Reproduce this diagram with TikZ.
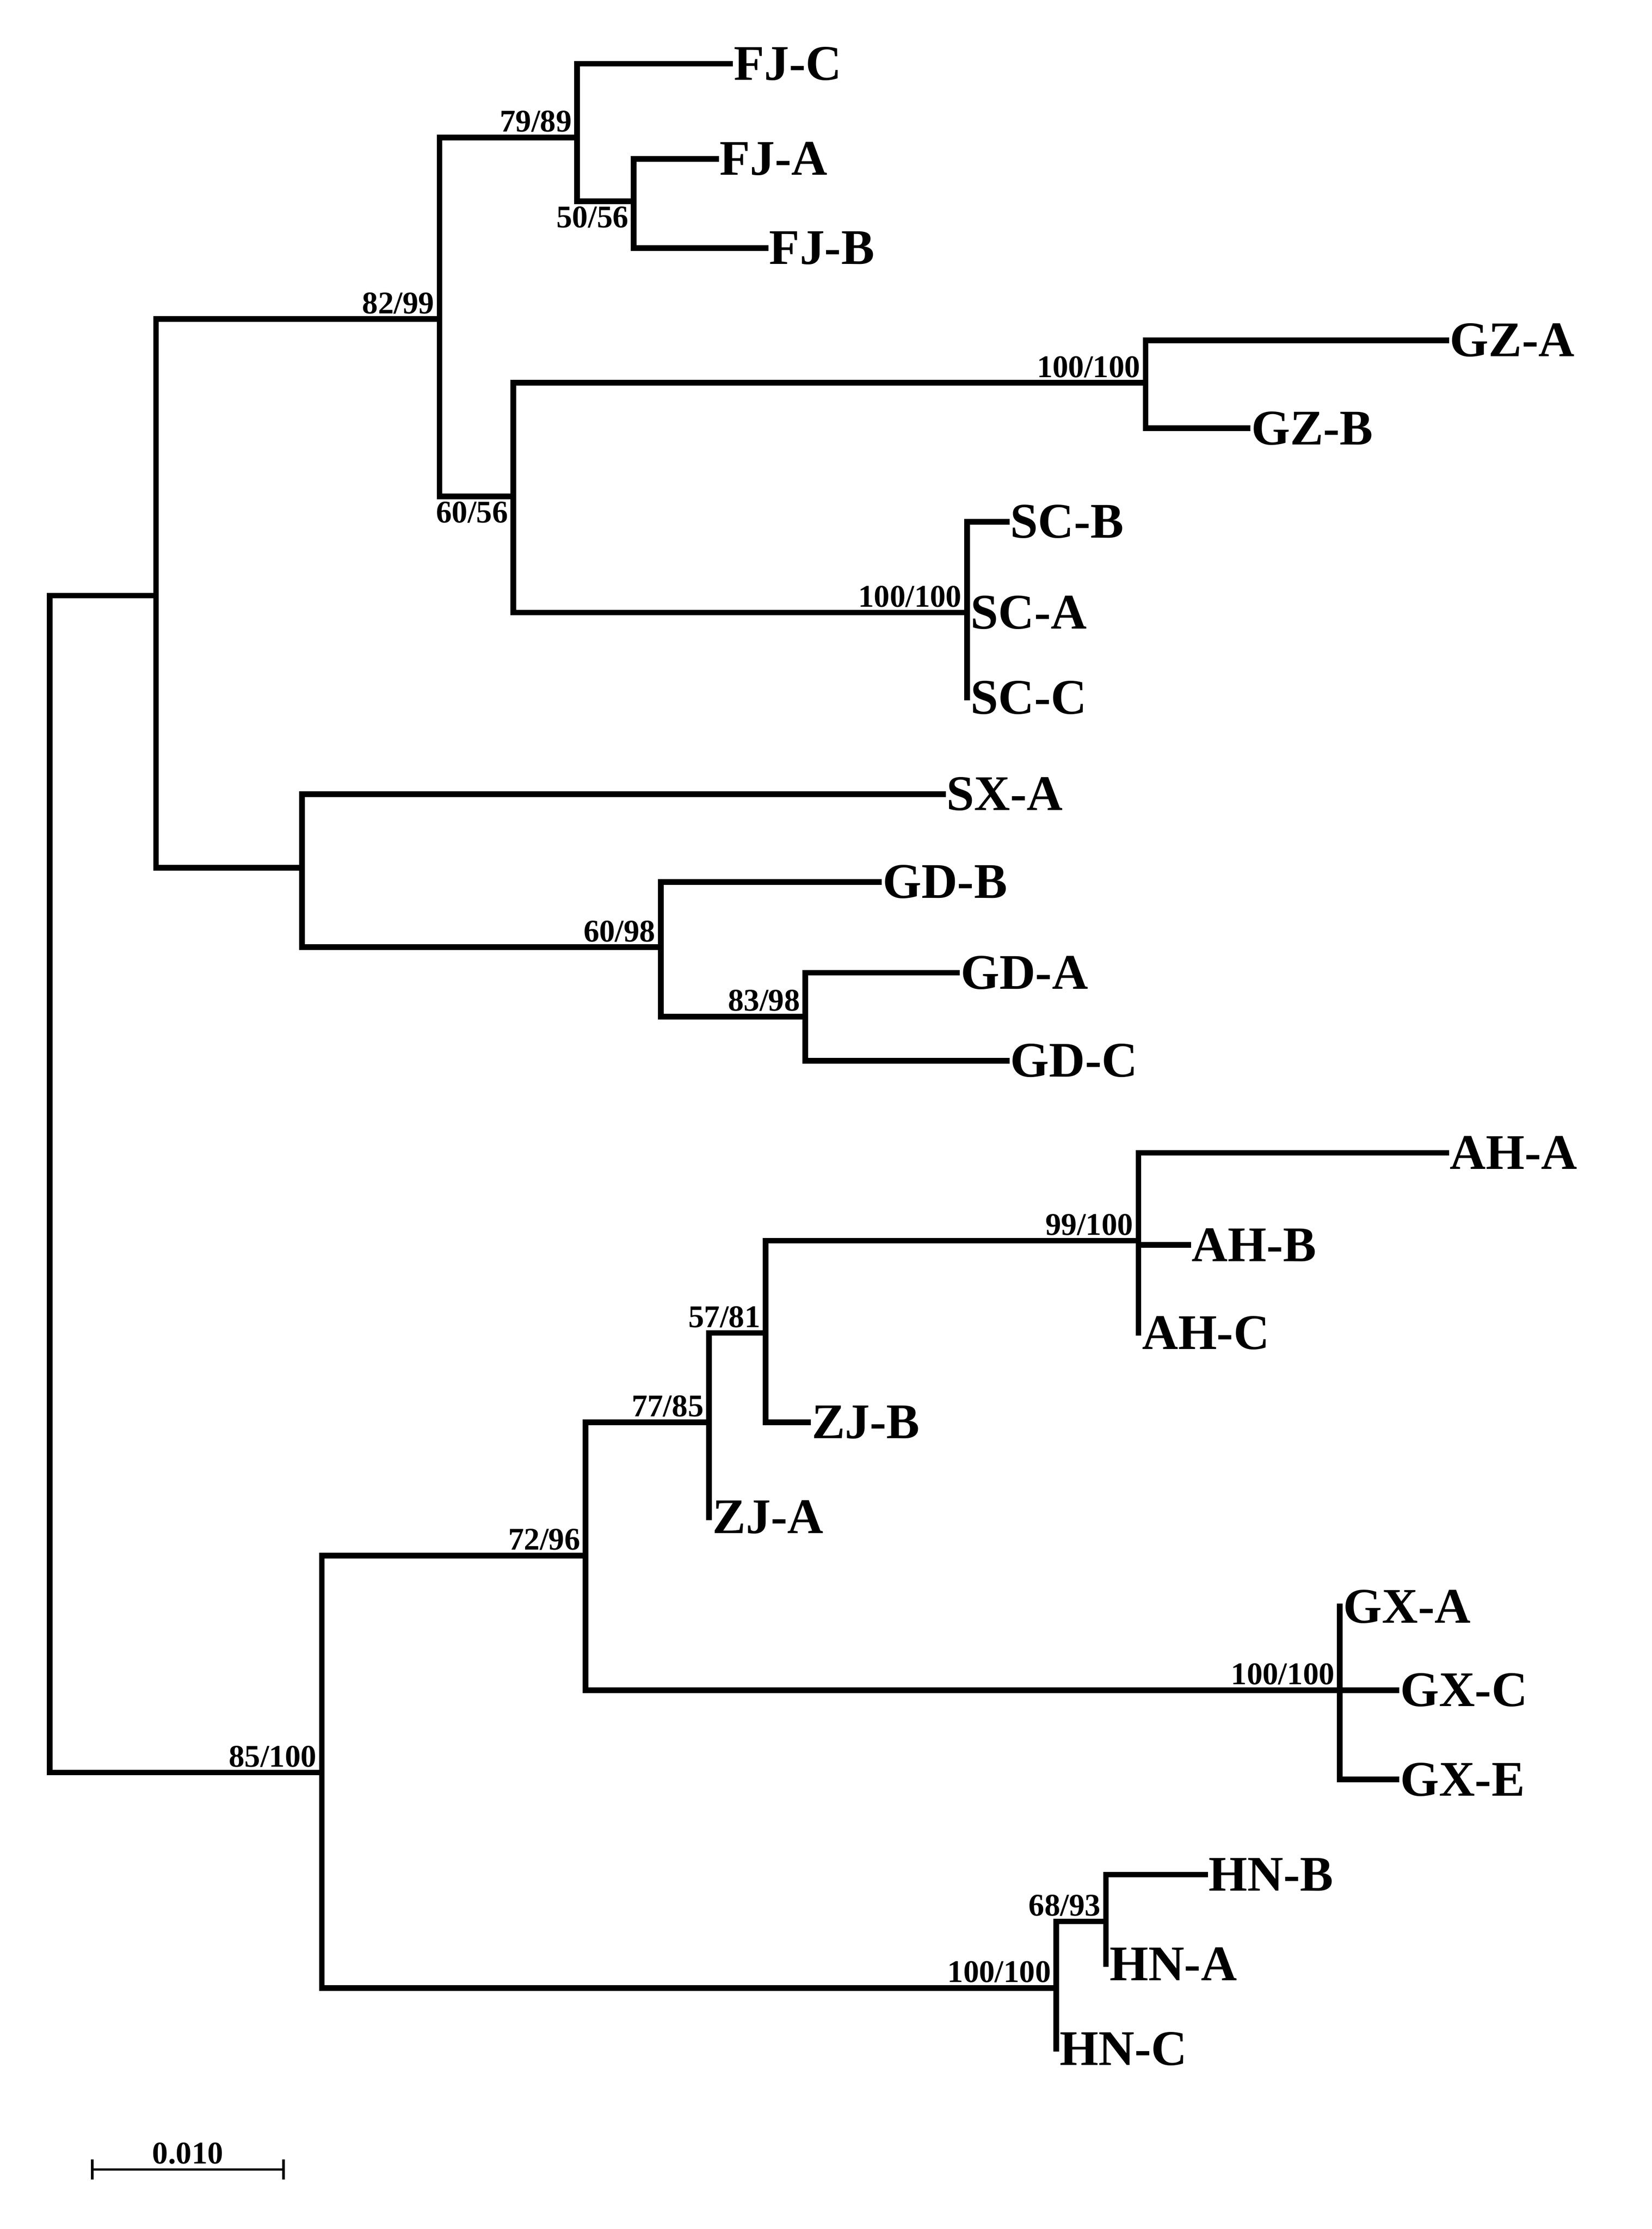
\documentclass[tikz,border=0pt]{standalone}
\usepackage{fontspec}
\setmainfont{Liberation Serif}
\usetikzlibrary{positioning, calc}
\tikzset{
  branch/.style={line width=3.4pt, line cap=rect},
  taxon/.style={anchor=west, inner sep=2pt, font=\bfseries\fontsize{30pt}{30pt}\selectfont},
  boot/.style={anchor=south east, inner sep=3pt, font=\bfseries\fontsize{19pt}{19pt}\selectfont}
}
\begin{document}
\begin{tikzpicture}[x=0.3mm, y=-0.3mm]
  \useasboundingbox (0,0) rectangle (1165,1572);

  % internal nodes
  \coordinate (root) at (35,420);
  \coordinate (up) at (110,420);
  \coordinate (n1) at (310,225);
  \coordinate (n2) at (407,97);
  \coordinate (n3) at (447,142);
  \coordinate (n4) at (362,350);
  \coordinate (gz) at (808,270);
  \coordinate (sc) at (682,432);
  \coordinate (sx) at (213,612);
  \coordinate (gd1) at (466,668);
  \coordinate (gd2) at (568,717);
  \coordinate (low) at (227,1250);
  \coordinate (n5) at (413,1097);
  \coordinate (n6) at (500,1003);
  \coordinate (n7) at (540,940);
  \coordinate (ah) at (803,875);
  \coordinate (gx) at (945,1192);
  \coordinate (hn1) at (745,1402);
  \coordinate (hn2) at (780,1355);

  % leaves
  \node[taxon] (fjc) at (515,45) {FJ-C};
  \node[taxon] (fja) at (505,112) {FJ-A};
  \node[taxon] (fjb) at (540,175) {FJ-B};
  \node[taxon] (gza) at (1020,240) {GZ-A};
  \node[taxon] (gzb) at (880,302) {GZ-B};
  \node[taxon] (scb) at (710,368) {SC-B};
  \node[taxon] (sca) at (682,432) {SC-A};
  \node[taxon] (scc) at (682,492) {SC-C};
  \node[taxon] (sxa) at (665,560) {SX-A};
  \node[taxon] (gdb) at (620,622) {GD-B};
  \node[taxon] (gda) at (675,686) {GD-A};
  \node[taxon] (gdc) at (710,748) {GD-C};
  \node[taxon] (aha) at (1020,813) {AH-A};
  \node[taxon] (ahb) at (838,878) {AH-B};
  \node[taxon] (ahc) at (803,940) {AH-C};
  \node[taxon] (zjb) at (570,1003) {ZJ-B};
  \node[taxon] (zja) at (500,1070) {ZJ-A};
  \node[taxon] (gxa) at (945,1133) {GX-A};
  \node[taxon] (gxc) at (985,1192) {GX-C};
  \node[taxon] (gxe) at (985,1255) {GX-E};
  \node[taxon] (hnb) at (850,1322) {HN-B};
  \node[taxon] (hna) at (780,1385) {HN-A};
  \node[taxon] (hnc) at (745,1445) {HN-C};

  % branches
  \draw[branch] (root) -- (up);
  \draw[branch] (root) |- (low);
  \draw[branch] (up) |- (n1);  \draw[branch] (up) |- (sx);
  \draw[branch] (n1) |- (n2);  \draw[branch] (n1) |- (n4);
  \draw[branch] (n2) |- (fjc.west); \draw[branch] (n2) |- (n3);
  \draw[branch] (n3) |- (fja.west); \draw[branch] (n3) |- (fjb.west);
  \draw[branch] (n4) |- (gz);  \draw[branch] (n4) |- (sc);
  \draw[branch] (gz) |- (gza.west); \draw[branch] (gz) |- (gzb.west);
  \draw[branch] (sc) |- (scb.west); \draw[branch] (sc) -- (scc.west);
  \draw[branch] (sx) |- (sxa.west); \draw[branch] (sx) |- (gd1);
  \draw[branch] (gd1) |- (gdb.west); \draw[branch] (gd1) |- (gd2);
  \draw[branch] (gd2) |- (gda.west); \draw[branch] (gd2) |- (gdc.west);
  \draw[branch] (low) |- (n5); \draw[branch] (low) |- (hn1);
  \draw[branch] (n5) |- (n6); \draw[branch] (n5) |- (gx);
  \draw[branch] (n6) |- (n7); \draw[branch] (n6) -- (zja.west);
  \draw[branch] (n7) |- (ah); \draw[branch] (n7) |- (zjb.west);
  \draw[branch] (ah) |- (aha.west); \draw[branch] (ah) |- (ahb.west); \draw[branch] (ah) -- (ahc.west);
  \draw[branch] (gx) -- (gxa.west); \draw[branch] (gx) |- (gxc.west); \draw[branch] (gx) |- (gxe.west);
  \draw[branch] (hn1) |- (hn2); \draw[branch] (hn1) -- (hnc.west);
  \draw[branch] (hn2) |- (hnb.west); \draw[branch] (hn2) -- (hna.west);

  % bootstrap values
  \node[boot] at (n1) {82/99};
  \node[boot] at (n2) {79/89};
  \node[boot, anchor=north east] at (n3) {50/56};
  \node[boot, anchor=north east] at (n4) {60/56};
  \node[boot] at (gz) {100/100};
  \node[boot] at (sc) {100/100};
  \node[boot] at (gd1) {60/98};
  \node[boot] at (gd2) {83/98};
  \node[boot] at (ah) {99/100};
  \node[boot] at (n7) {57/81};
  \node[boot] at (n6) {77/85};
  \node[boot] at (n5) {72/96};
  \node[boot] at (gx) {100/100};
  \node[boot] at (low) {85/100};
  \node[boot] at (hn1) {100/100};
  \node[boot] at (hn2) {68/93};

  % scale bar
  \coordinate (sb1) at (65,1530);
  \coordinate (sb2) at (200,1530);
  \draw[line width=1.5pt] (sb1) -- (sb2);
  \draw[line width=1.5pt] (sb1) ++(0,-7) -- ++(0,14);
  \draw[line width=1.5pt] (sb2) ++(0,-7) -- ++(0,14);
  \node[boot, anchor=south] at ($(sb1)!0.5!(sb2)$) {0.010};
\end{tikzpicture}
\end{document}
